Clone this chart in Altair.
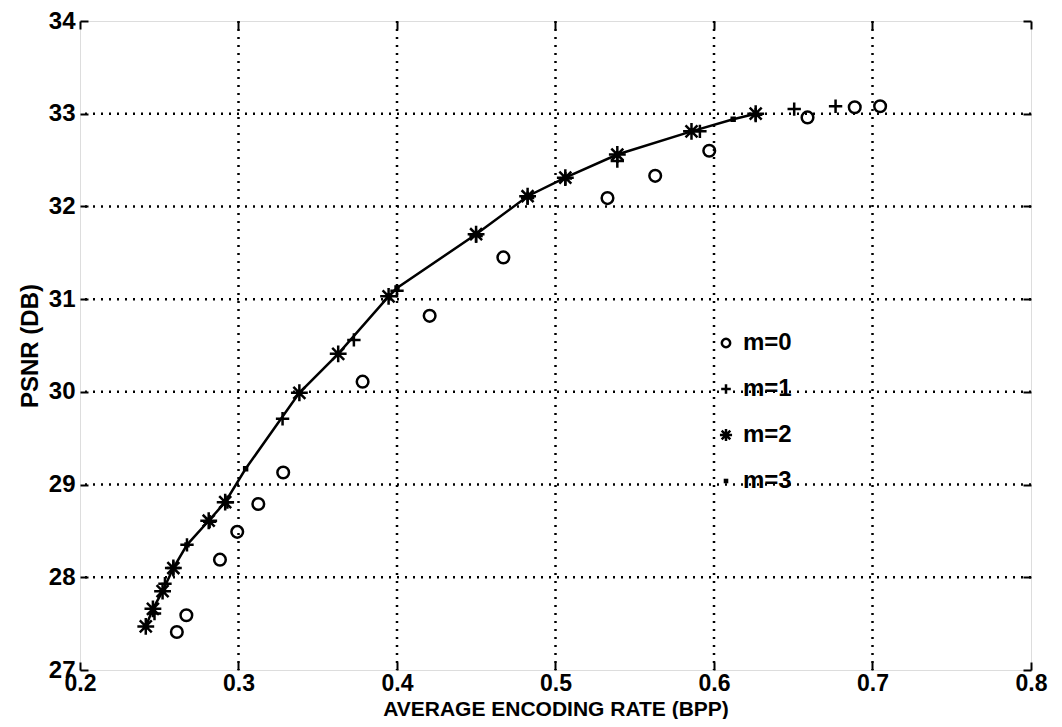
import altair as alt
import pandas as pd

# ---- data ----
m0_x = [0.2611, 0.2671, 0.2883, 0.2992, 0.3125, 0.3282, 0.3783, 0.4206, 0.4671,
        0.5328, 0.5629, 0.5970, 0.6590, 0.6888, 0.7048]
m0_y = [27.41, 27.59, 28.19, 28.49, 28.79, 29.13, 30.11, 30.82, 31.45,
        32.09, 32.33, 32.60, 32.96, 33.07, 33.08]

m1_x = [0.2470, 0.2536, 0.2589, 0.2675, 0.2818, 0.2930, 0.3278, 0.3728, 0.4000,
        0.4499, 0.4824, 0.5062, 0.5390, 0.5911, 0.6263, 0.6506, 0.6767]
m1_y = [27.61, 27.93, 28.10, 28.35, 28.60, 28.81, 29.71, 30.56, 31.09,
        31.68, 32.09, 32.30, 32.49, 32.81, 32.99, 33.05, 33.08]

m2_x = [0.2415, 0.2460, 0.2521, 0.2589, 0.2812, 0.2916, 0.3384, 0.3629, 0.3947,
        0.4499, 0.4824, 0.5062, 0.5390, 0.5858, 0.6263]
m2_y = [27.47, 27.66, 27.85, 28.10, 28.61, 28.81, 29.99, 30.41, 31.03,
        31.70, 32.11, 32.31, 32.56, 32.81, 33.00]

m3_x = [0.2415, 0.2460, 0.2521, 0.2589, 0.2675, 0.2812, 0.2916, 0.3045, 0.3384,
        0.3629, 0.3947, 0.4000, 0.4499, 0.4824, 0.5062, 0.5390, 0.5858, 0.6121, 0.6263]
m3_y = [27.47, 27.66, 27.85, 28.10, 28.35, 28.61, 28.81, 29.17, 29.99,
        30.41, 31.03, 31.12, 31.70, 32.11, 32.31, 32.56, 32.81, 32.94, 33.00]

series_names = ["m=0", "m=1", "m=2", "m=3"]
x_ticks = [0.2, 0.3, 0.4, 0.5, 0.6, 0.7, 0.8]
y_ticks = [27, 28, 29, 30, 31, 32, 33, 34]

FONT = "Liberation Sans"

rows = []
for name, xs_, ys_ in zip(series_names, [m0_x, m1_x, m2_x, m3_x], [m0_y, m1_y, m2_y, m3_y]):
    for a, b in zip(xs_, ys_):
        rows.append({"series": name, "x": a, "y": b})
pts = pd.DataFrame(rows)
line_df = pd.DataFrame({"x": m3_x, "y": m3_y})
xgrid = pd.DataFrame({"v": x_ticks[1:-1]})
ygrid = pd.DataFrame({"v": y_ticks[1:-1]})

xs = alt.Scale(domain=[0.2, 0.8], nice=False, zero=False)
ys = alt.Scale(domain=[27, 34], nice=False, zero=False)

common = dict(offset=-8, tickSize=8, tickWidth=2, tickColor="black", domain=False,
              grid=False, labelFont=FONT, labelFontWeight="bold",
              labelColor="black", titleFont=FONT,
              titleFontWeight="bold", titleColor="black", labelFlush=False,
              labelOverlap=False)

x_axis = alt.Axis(orient="bottom", values=x_ticks, format=".1f", labelPadding=2,
                  labelFontSize=23,
                  title="AVERAGE ENCODING RATE (BPP)", titleFontSize=21, titlePadding=3,
                  **common)
y_axis = alt.Axis(orient="left", values=y_ticks, format="d", labelPadding=5,
                  labelFontSize=24,
                  title="PSNR (DB)", titleFontSize=24, titlePadding=6, **common)
x_top = alt.Axis(orient="top", values=x_ticks, labels=False, title=None,
                 offset=-8, tickSize=8, tickWidth=2, tickColor="black", domain=False, grid=False)
y_right = alt.Axis(orient="right", values=y_ticks, labels=False, title=None,
                   offset=-8, tickSize=8, tickWidth=2, tickColor="black", domain=False, grid=False)

grid_style = dict(color="black", strokeDash=[2, 6], strokeWidth=2.5, strokeCap="butt")

gx = alt.Chart(xgrid).mark_rule(**grid_style).encode(
    x=alt.X("v:Q", scale=xs, axis=x_axis))
gy = alt.Chart(ygrid).mark_rule(**grid_style).encode(
    y=alt.Y("v:Q", scale=ys, axis=y_axis))

line = alt.Chart(line_df).mark_line(color="black", strokeWidth=2.5).encode(
    x=alt.X("x:Q", scale=xs, axis=x_top),
    y=alt.Y("y:Q", scale=ys, axis=y_right),
)

shape_range = [
    "circle",
    "M-1.15,0L1.15,0M0,-1.15L0,1.15",
    "M0,-1.45L0,1.45M-1.45,0L1.45,0M-1.03,-1.03L1.03,1.03M-1.03,1.03L1.03,-1.03",
    "M-0.25,-0.25L0.25,-0.25L0.25,0.25L-0.25,0.25Z",
]

points = alt.Chart(pts).mark_point(filled=False, color="black", strokeWidth=2.5, opacity=1,
                                   size=135).encode(
    x=alt.X("x:Q", scale=xs, axis=None),
    y=alt.Y("y:Q", scale=ys, axis=None),
    shape=alt.Shape("series:N", scale=alt.Scale(domain=series_names, range=shape_range),
                    legend=alt.Legend(orient="none", legendX=634, legendY=310, title=None,
                                      labelFont=FONT, labelFontSize=24, labelFontWeight="bold",
                                      labelColor="black", symbolSize=70, symbolStrokeWidth=2.5,
                                      symbolStrokeColor="black", symbolFillColor="transparent",
                                      symbolOpacity=1, rowPadding=22, labelOffset=5)),
)

chart = alt.layer(gx, gy, line, points).properties(
    width=951, height=649,
    autosize=alt.AutoSizeParams(type="none"),
    padding={"left": 72, "top": 13, "right": 23, "bottom": 49},
).configure_view(stroke="black", strokeWidth=2.5).configure(background="white")

chart.save("out.html", embed_options={"renderer": "svg", "actions": False})
